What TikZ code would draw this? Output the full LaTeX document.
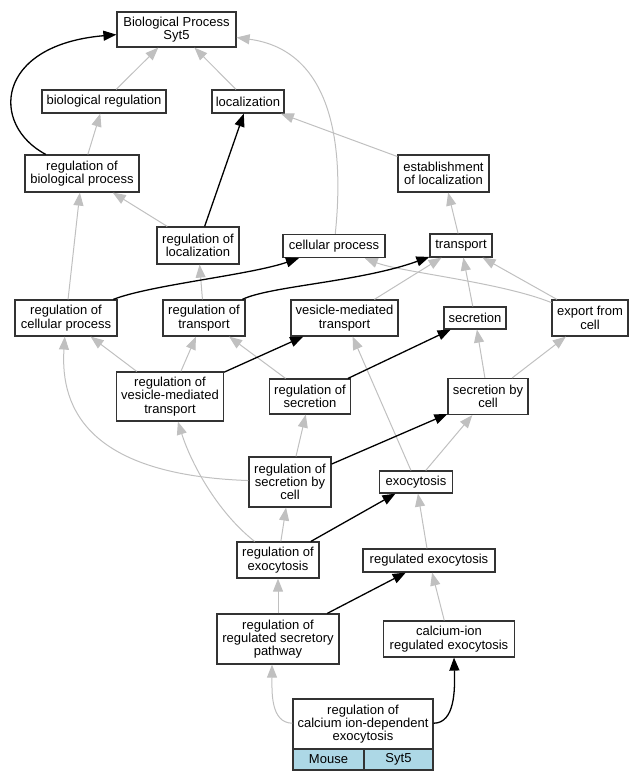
\documentclass[tikz,border=0pt]{standalone}
\usepackage{fontspec}
\setmainfont{Liberation Sans}
\usetikzlibrary{arrows.meta}
\definecolor{edgegray}{HTML}{C0C0C0}
\definecolor{boxline}{HTML}{333333}
\definecolor{lblue}{HTML}{ADD8E6}
\newcommand{\lblfont}{\fontsize{13bp}{13.3bp}\selectfont}
\tikzset{
  box/.style={draw=boxline, line width=1.2bp, fill=white, inner sep=0pt, align=center, font=\lblfont},
  isa/.style={draw=edgegray, line width=1bp, -{Triangle[length=13bp,width=10bp,fill=edgegray]}},
  regl/.style={draw=black, line width=1.3bp, -{Triangle[length=13bp,width=10bp,fill=black]}}
}
\begin{document}
\begin{tikzpicture}[x=1bp,y=-1bp]
\useasboundingbox (0,0) rectangle (643,781);
% nodes
\node[box, minimum width=119bp, minimum height=35bp] (bp) at (176.5,29.5) {Biological Process\\Syt5};
\node[box, minimum width=124bp, minimum height=23bp] (breg) at (104,101.5) {biological regulation};
\node[box, minimum width=72bp, minimum height=23bp] (loc) at (248,101.5) {localization};
\node[box, minimum width=114bp, minimum height=37bp] (rbp) at (82,173.5) {regulation of\\biological process};
\node[box, minimum width=91bp, minimum height=37bp] (eloc) at (443.5,173.5) {establishment\\of localization};
\node[box, minimum width=82bp, minimum height=37bp] (rloc) at (198,245.5) {regulation of\\localization};
\node[box, minimum width=102bp, minimum height=23bp] (cp) at (334,246) {cellular process};
\node[box, minimum width=62bp, minimum height=23bp] (tr) at (461,245.5) {transport};
\node[box, minimum width=102bp, minimum height=36bp] (rcp) at (66,318) {regulation of\\cellular process};
\node[box, minimum width=82bp, minimum height=36bp] (rtr) at (204,318) {regulation of\\transport};
\node[box, minimum width=107bp, minimum height=36bp] (vmt) at (344.5,318) {vesicle-mediated\\transport};
\node[box, minimum width=62bp, minimum height=22bp] (sec) at (475,318) {secretion};
\node[box, minimum width=76bp, minimum height=36bp] (exp) at (590,318) {export from\\cell};
\node[box, minimum width=107bp, minimum height=49bp] (rvmt) at (170,396.5) {regulation of\\vesicle-mediated\\transport};
\node[box, minimum width=81bp, minimum height=35bp] (rsec) at (310,396.5) {regulation of\\secretion};
\node[box, minimum width=80bp, minimum height=36bp] (sbc) at (488,396.5) {secretion by\\cell};
\node[box, minimum width=82bp, minimum height=50bp] (rsbc) at (290,482) {regulation of\\secretion by\\cell};
\node[box, minimum width=73bp, minimum height=22bp] (exo) at (416,482) {exocytosis};
\node[box, minimum width=82bp, minimum height=36bp] (rexo) at (278,560) {regulation of\\exocytosis};
\node[box, minimum width=132bp, minimum height=23bp] (regexo) at (429,560.5) {regulated exocytosis};
\node[box, minimum width=122bp, minimum height=50bp] (rrsp) at (278,639) {regulation of\\regulated secretory\\pathway};
\node[box, minimum width=131bp, minimum height=36bp] (cal) at (449,639) {calcium-ion\\regulated exocytosis};
\node[box, minimum width=140bp, minimum height=50bp] (bot) at (363,724) {regulation of\\calcium ion-dependent\\exocytosis};
\node[box, fill=lblue, minimum width=71bp, minimum height=21bp] (mouse) at (328.5,759.5) {Mouse};
\node[box, fill=lblue, minimum width=69bp, minimum height=21bp] (syt) at (398.5,759.5) {Syt5};
% is_a edges (gray)
\draw[isa] (breg) -- (bp);
\draw[isa] (loc) -- (bp);
\draw[isa] (cp) .. controls (345,140) and (330,50) .. (bp);
\draw[isa] (eloc) -- (loc);
\draw[isa] (rbp) -- (breg);
\draw[isa] (rloc) -- (rbp);
\draw[isa] (tr) -- (eloc);
\draw[isa] (rcp) -- (rbp);
\draw[isa] (rtr) -- (rloc);
\draw[isa] (vmt) -- (tr);
\draw[isa] (exp) .. controls (500,282) and (400,272) .. (cp);
\draw[isa] (exp) -- (tr);
\draw[isa] (sec) -- (tr);
\draw[isa] (rvmt) -- (rcp);
\draw[isa] (rvmt) -- (rtr);
\draw[isa] (rsec) -- (rtr);
\draw[isa] (rsbc) .. controls (90,475) and (60,410) .. (rcp);
\draw[isa] (rsbc) -- (rsec);
\draw[isa] (exo) -- (vmt);
\draw[isa] (exo) -- (sbc);
\draw[isa] (sbc) -- (sec);
\draw[isa] (sbc) -- (exp);
\draw[isa] (rexo) -- (rsbc);
\draw[isa] (rexo) .. controls (215,510) and (190,460) .. (rvmt);
\draw[isa] (regexo) -- (exo);
\draw[isa] (rrsp) -- (rexo);
\draw[isa] (cal) -- (regexo);
\draw[isa] (bot) .. controls (270,723) and (272,690) .. ([xshift=-6bp]rrsp.south);
% regulates edges (black)
\draw[regl] (rbp) .. controls (-10,125) and (-5,45) .. (bp);
\draw[regl] (rloc) -- (loc);
\draw[regl] (rcp) .. controls (150,285) and (250,275) .. (cp);
\draw[regl] (rtr) .. controls (270,286) and (360,282) .. (tr);
\draw[regl] (rvmt) -- (vmt);
\draw[regl] (rsec) -- (sec);
\draw[regl] (rsbc) -- (sbc);
\draw[regl] (rexo) -- (exo);
\draw[regl] (rrsp) -- (regexo);
\draw[regl] (bot) .. controls (455,723) and (455,690) .. ([xshift=5bp]cal.south);
\end{tikzpicture}
\end{document}
